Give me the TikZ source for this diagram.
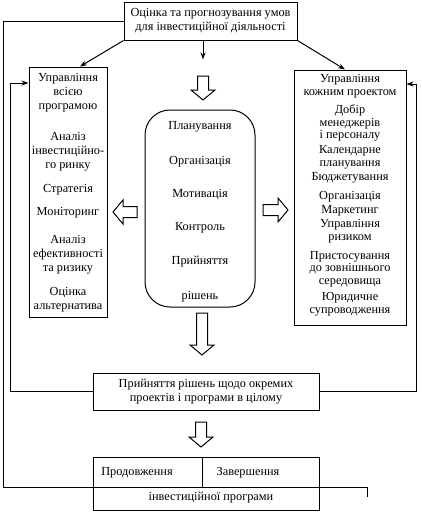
\documentclass[tikz,border=0pt]{standalone}
\usepackage{fontspec}
\setmainfont{Liberation Serif}
\usetikzlibrary{arrows.meta}
\tikzset{
  box/.style={draw,line width=1pt,inner sep=0pt},
  txt/.style={align=center,inner sep=0pt,font=\fontsize{12.3}{13.8}\selectfont},
  txtr/.style={align=center,inner sep=0pt,font=\fontsize{12.3}{12.6}\selectfont},
  conn/.style={line width=1pt},
  arr/.style={line width=1pt,-{Stealth[length=7pt,width=5pt]}},
  pics/harrow/.style={code={
    \draw[line width=1pt] (0,-5.5) -- (#1-10,-5.5) -- (#1-10,-12) -- (#1,0)
      -- (#1-10,12) -- (#1-10,5.5) -- (0,5.5) -- cycle;}}
}
\begin{document}
\begin{tikzpicture}[x=1pt,y=-1pt]
\useasboundingbox (0,0) rectangle (421,512);
% boxes
\node[box,minimum width=173pt,minimum height=38pt] (T) at (210.5,21) {};
\node[box,minimum width=78pt,minimum height=250pt] (L) at (68,192) {};
\node[box,minimum width=112pt,minimum height=255pt] (R) at (350,197.5) {};
\node[box,rounded corners=25pt,minimum width=110pt,minimum height=197pt] (C) at (200,208.5) {};
\node[box,minimum width=226pt,minimum height=37pt] (D) at (206,391.5) {};
\node[box,minimum width=226pt,minimum height=53pt] (B) at (206,483.5) {};
\coordinate (Bsplit) at (202,457);
\draw[conn] (Bsplit) -- (202,487);
% texts top
\node[txt] (tT) at (T) {Оцінка та прогнозування умов\\для інвестиційної діяльності};
% left box texts
\node[txt] (l1) at (68,92.5) {Управління\\всією\\програмою};
\node[txt] (l2) at (68,152) {Аналіз\\інвестиційно-\\го ринку};
\node[txt] (l3) at (68,190) {Стратегія};
\node[txt] (l4) at (68,213) {Моніторинг};
\node[txt] (l5) at (68,255) {Аналіз\\ефективності\\та ризику};
\node[txt] (l6) at (68,300) {Оцінка\\альтернатива};
% right box texts
\node[txtr] (r1) at (350,86) {Управління\\кожним проектом};
\node[txtr] (r2) at (350,123) {Добір\\менеджерів\\і персоналу};
\node[txtr] (r3) at (350,157) {Календарне\\планування};
\node[txtr] (r4) at (350,178) {Бюджетування};
\node[txtr] (r5) at (350,197) {Організація};
\node[txtr] (r6) at (350,211) {Маркетинг};
\node[txtr] (r7) at (350,231.5) {Управління\\ризиком};
\node[txtr] (r8) at (350,269) {Пристосування\\до зовнішнього\\середовища};
\node[txtr] (r9) at (350,304) {Юридичне\\супроводження};
% center texts
\node[txt] (c1) at (200,127) {Планування};
\node[txt] (c2) at (200,162) {Організація};
\node[txt] (c3) at (200,195) {Мотивація};
\node[txt] (c4) at (200,228) {Контроль};
\node[txt] (c5) at (200,262) {Прийняття};
\node[txt] (c6) at (200,297) {рішень};
% decision
\node[txt] (tD) at (D) {Прийняття рішень щодо окремих\\проектів і програми в цілому};
% bottom
\node[txt] (b1) at (137,473) {Продовження};
\node[txt] (b2) at (248,473) {Завершення};
\node[txt] (b3) at (211,498) {інвестиційної програми};
% arrows from top
\draw[arr] (T.south west) -- ([xshift=12pt]L.north);
\draw[arr] (T.south east) -- ([xshift=-5pt]R.north);
\draw[arr] ([xshift=-7.5pt]T.south) -- ++(0,19);
% outer loop
\coordinate (oc) at (3,487);
\coordinate (oe) at (367,487);
\draw[conn] (T.west) -| (oc) -- (oe) -- ++(0,10);
% feedback loops
\coordinate (lc) at (10,83);
\coordinate (rc) at (416,84);
\draw[arr] (D.west) -| (lc) -- (L.west |- lc);
\draw[arr] (D.east) -| (rc) -- (R.east |- rc);
% hollow arrows
\pic[rotate=-90] at (203,76) {harrow=24};
\pic[rotate=-90] at (202,313) {harrow=42};
\pic[rotate=-90] at (201,422) {harrow=25};
\pic[rotate=180] at (137,212) {harrow=24};
\pic at (263,210) {harrow=25};
\end{tikzpicture}
\end{document}
